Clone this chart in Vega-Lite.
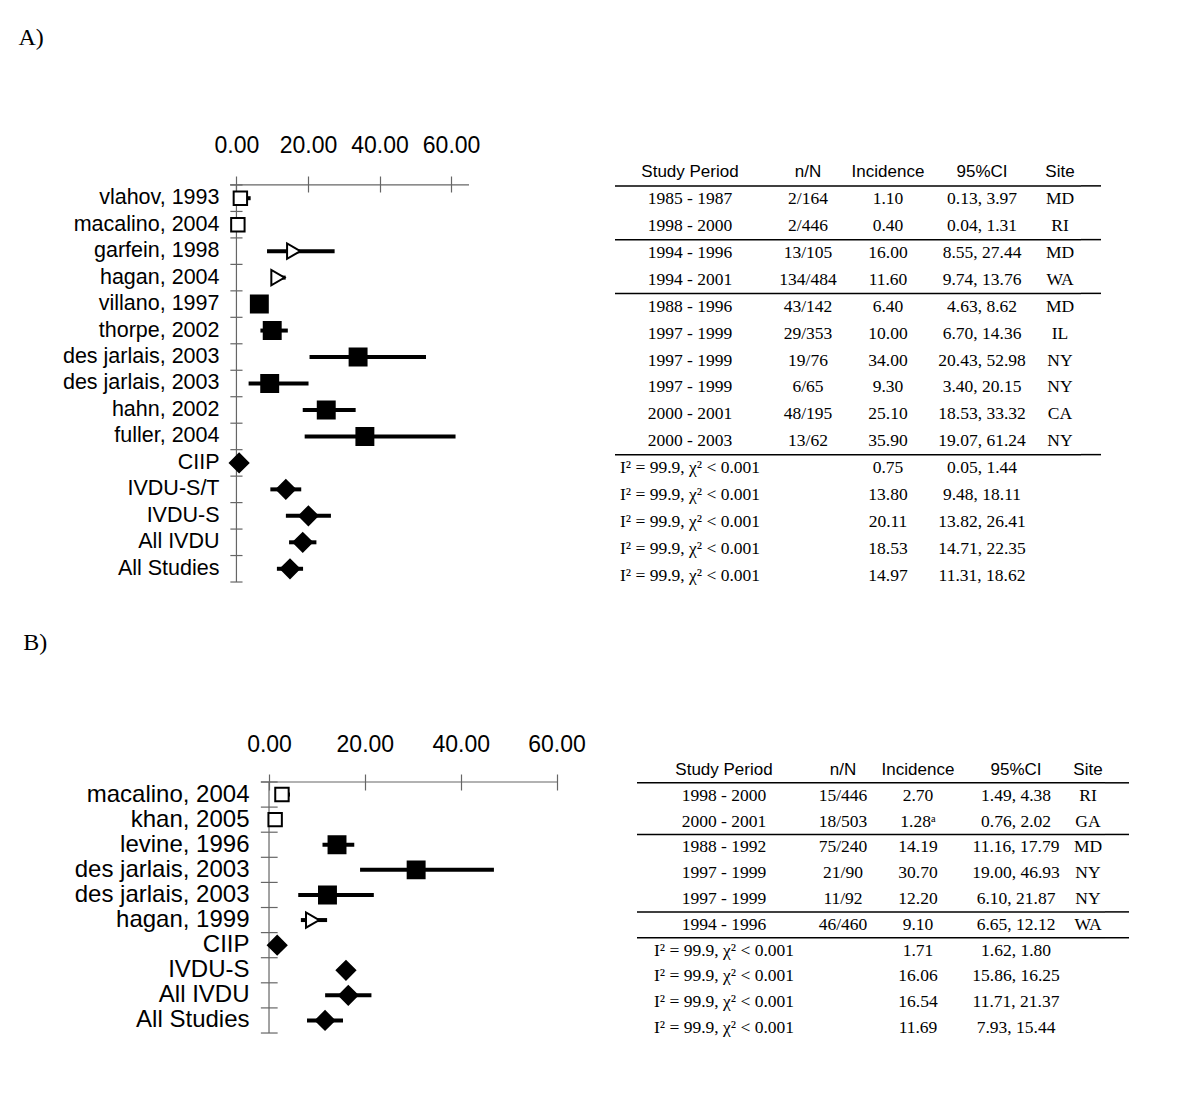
{
"$schema": "https://vega.github.io/schema/vega-lite/v6.json",
"background": "white",
"padding": {"left": 18, "top": 26, "right": 0, "bottom": 0},
"config": {"view": {"stroke": null}, "font": "Liberation Sans"},
"datasets": {
"forestA": [
{"label": "vlahov, 1993", "group": "CIIP", "est": 1.10, "lo": 0.13, "hi": 3.97},
{"label": "macalino, 2004", "group": "CIIP", "est": 0.40, "lo": 0.04, "hi": 1.31},
{"label": "garfein, 1998", "group": "IVDU-S/T", "est": 16.00, "lo": 8.55, "hi": 27.44},
{"label": "hagan, 2004", "group": "IVDU-S/T", "est": 11.60, "lo": 9.74, "hi": 13.76},
{"label": "villano, 1997", "group": "IVDU-S", "est": 6.40, "lo": 4.63, "hi": 8.62},
{"label": "thorpe, 2002", "group": "IVDU-S", "est": 10.00, "lo": 6.70, "hi": 14.36},
{"label": "des jarlais, 2003", "group": "IVDU-S", "est": 34.00, "lo": 20.43, "hi": 52.98},
{"label": "des jarlais, 2003\u200b", "group": "IVDU-S", "est": 9.30, "lo": 3.40, "hi": 20.15},
{"label": "hahn, 2002", "group": "IVDU-S", "est": 25.10, "lo": 18.53, "hi": 33.32},
{"label": "fuller, 2004", "group": "IVDU-S", "est": 35.90, "lo": 19.07, "hi": 61.24},
{"label": "CIIP", "group": "Pooled", "est": 0.75, "lo": 0.05, "hi": 1.44},
{"label": "IVDU-S/T", "group": "Pooled", "est": 13.80, "lo": 9.48, "hi": 18.11},
{"label": "IVDU-S", "group": "Pooled", "est": 20.11, "lo": 13.82, "hi": 26.41},
{"label": "All IVDU", "group": "Pooled", "est": 18.53, "lo": 14.71, "hi": 22.35},
{"label": "All Studies", "group": "Pooled", "est": 14.97, "lo": 11.31, "hi": 18.62}
],
"forestB": [
{"label": "macalino, 2004", "group": "CIIP", "est": 2.70, "lo": 1.49, "hi": 4.38},
{"label": "khan, 2005", "group": "CIIP", "est": 1.28, "lo": 0.76, "hi": 2.02},
{"label": "levine, 1996", "group": "IVDU-S", "est": 14.19, "lo": 11.16, "hi": 17.79},
{"label": "des jarlais, 2003", "group": "IVDU-S", "est": 30.70, "lo": 19.00, "hi": 46.93},
{"label": "des jarlais, 2003\u200b", "group": "IVDU-S", "est": 12.20, "lo": 6.10, "hi": 21.87},
{"label": "hagan, 1999", "group": "IVDU-S/T", "est": 9.10, "lo": 6.65, "hi": 12.12},
{"label": "CIIP", "group": "Pooled", "est": 1.71, "lo": 1.62, "hi": 1.80},
{"label": "IVDU-S", "group": "Pooled", "est": 16.06, "lo": 15.86, "hi": 16.25},
{"label": "All IVDU", "group": "Pooled", "est": 16.54, "lo": 11.71, "hi": 21.37},
{"label": "All Studies", "group": "Pooled", "est": 11.69, "lo": 7.93, "hi": 15.44}
],
"tableA": [
{"r": 0, "period": "Study Period", "nN": "n/N", "inc": "Incidence", "ci": "95%CI", "site": "Site"},
{"r": 1, "period": "1985 - 1987", "nN": "2/164", "inc": "1.10", "ci": "0.13, 3.97", "site": "MD"},
{"r": 2, "period": "1998 - 2000", "nN": "2/446", "inc": "0.40", "ci": "0.04, 1.31", "site": "RI"},
{"r": 3, "period": "1994 - 1996", "nN": "13/105", "inc": "16.00", "ci": "8.55, 27.44", "site": "MD"},
{"r": 4, "period": "1994 - 2001", "nN": "134/484", "inc": "11.60", "ci": "9.74, 13.76", "site": "WA"},
{"r": 5, "period": "1988 - 1996", "nN": "43/142", "inc": "6.40", "ci": "4.63, 8.62", "site": "MD"},
{"r": 6, "period": "1997 - 1999", "nN": "29/353", "inc": "10.00", "ci": "6.70, 14.36", "site": "IL"},
{"r": 7, "period": "1997 - 1999", "nN": "19/76", "inc": "34.00", "ci": "20.43, 52.98", "site": "NY"},
{"r": 8, "period": "1997 - 1999", "nN": "6/65", "inc": "9.30", "ci": "3.40, 20.15", "site": "NY"},
{"r": 9, "period": "2000 - 2001", "nN": "48/195", "inc": "25.10", "ci": "18.53, 33.32", "site": "CA"},
{"r": 10, "period": "2000 - 2003", "nN": "13/62", "inc": "35.90", "ci": "19.07, 61.24", "site": "NY"},
{"r": 11, "period": "I² = 99.9, χ² < 0.001", "nN": "", "inc": "0.75", "ci": "0.05, 1.44", "site": ""},
{"r": 12, "period": "I² = 99.9, χ² < 0.001", "nN": "", "inc": "13.80", "ci": "9.48, 18.11", "site": ""},
{"r": 13, "period": "I² = 99.9, χ² < 0.001", "nN": "", "inc": "20.11", "ci": "13.82, 26.41", "site": ""},
{"r": 14, "period": "I² = 99.9, χ² < 0.001", "nN": "", "inc": "18.53", "ci": "14.71, 22.35", "site": ""},
{"r": 15, "period": "I² = 99.9, χ² < 0.001", "nN": "", "inc": "14.97", "ci": "11.31, 18.62", "site": ""}
],
"tableB": [
{"r": 0, "period": "Study Period", "nN": "n/N", "inc": "Incidence", "ci": "95%CI", "site": "Site"},
{"r": 1, "period": "1998 - 2000", "nN": "15/446", "inc": "2.70", "ci": "1.49, 4.38", "site": "RI"},
{"r": 2, "period": "2000 - 2001", "nN": "18/503", "inc": "1.28ᵃ", "ci": "0.76, 2.02", "site": "GA"},
{"r": 3, "period": "1988 - 1992", "nN": "75/240", "inc": "14.19", "ci": "11.16, 17.79", "site": "MD"},
{"r": 4, "period": "1997 - 1999", "nN": "21/90", "inc": "30.70", "ci": "19.00, 46.93", "site": "NY"},
{"r": 5, "period": "1997 - 1999", "nN": "11/92", "inc": "12.20", "ci": "6.10, 21.87", "site": "NY"},
{"r": 6, "period": "1994 - 1996", "nN": "46/460", "inc": "9.10", "ci": "6.65, 12.12", "site": "WA"},
{"r": 7, "period": "I² = 99.9, χ² < 0.001", "nN": "", "inc": "1.71", "ci": "1.62, 1.80", "site": ""},
{"r": 8, "period": "I² = 99.9, χ² < 0.001", "nN": "", "inc": "16.06", "ci": "15.86, 16.25", "site": ""},
{"r": 9, "period": "I² = 99.9, χ² < 0.001", "nN": "", "inc": "16.54", "ci": "11.71, 21.37", "site": ""},
{"r": 10, "period": "I² = 99.9, χ² < 0.001", "nN": "", "inc": "11.69", "ci": "7.93, 15.44", "site": ""}
]
},
"spacing": 42,
"vconcat": [
{
"title": {"text": "A)", "anchor": "start", "font": "Liberation Serif", "fontSize": 24, "fontWeight": "normal", "color": "black", "baseline": "top", "dx": -44, "offset": 84},
"spacing": 134,
"hconcat": [
{
"width": 239, "height": 430,
"data": {"name": "forestA"},
"layer": [
{"transform": [{"filter": "datum.label == 'vlahov, 1993'"}], "mark": {"type": "rule", "stroke": "#666", "strokeWidth": 1.2},
 "encoding": {"y": {"field": "label", "type": "nominal", "bandPosition": 0, "title": null, "scale": {"type": "band", "domain": ["vlahov, 1993","macalino, 2004","garfein, 1998","hagan, 2004","villano, 1997","thorpe, 2002","des jarlais, 2003","des jarlais, 2003\u200b","hahn, 2002","fuller, 2004","CIIP","IVDU-S/T","IVDU-S","All IVDU","All Studies"], "paddingInner": 0, "paddingOuter": 0.6225, "align": 0.788}, "axis": {"ticks": false, "domain": false, "labelFont": "Liberation Sans", "labelFontSize": 21.5, "labelColor": "black", "labelPadding": 11, "labelLimit": 500}}}},
{"mark": {"type": "rule", "stroke": "#666", "strokeWidth": 1.2},
 "encoding": {"y": {"field": "label", "type": "nominal", "bandPosition": 0, "title": null, "scale": {"type": "band", "domain": ["vlahov, 1993","macalino, 2004","garfein, 1998","hagan, 2004","villano, 1997","thorpe, 2002","des jarlais, 2003","des jarlais, 2003\u200b","hahn, 2002","fuller, 2004","CIIP","IVDU-S/T","IVDU-S","All IVDU","All Studies"], "paddingInner": 0, "paddingOuter": 0.6225, "align": 0.788}},
  "x": {"datum": -1.7, "type": "quantitative", "title": null}, "x2": {"datum": 1.7}}},
{"transform": [{"filter": "datum.label == 'All Studies'"}], "mark": {"type": "rule", "stroke": "#666", "strokeWidth": 1.2},
 "encoding": {"y": {"field": "label", "type": "nominal", "bandPosition": 1, "title": null, "scale": {"type": "band", "domain": ["vlahov, 1993","macalino, 2004","garfein, 1998","hagan, 2004","villano, 1997","thorpe, 2002","des jarlais, 2003","des jarlais, 2003\u200b","hahn, 2002","fuller, 2004","CIIP","IVDU-S/T","IVDU-S","All IVDU","All Studies"], "paddingInner": 0, "paddingOuter": 0.6225, "align": 0.788}},
  "x": {"datum": -1.7, "type": "quantitative", "title": null}, "x2": {"datum": 1.7}}},
{"mark": {"type": "rect", "fill": null, "stroke": "#666", "strokeWidth": 1.2},
 "encoding": {"y": {"field": "label", "type": "nominal", "title": null, "scale": {"type": "band", "domain": ["vlahov, 1993","macalino, 2004","garfein, 1998","hagan, 2004","villano, 1997","thorpe, 2002","des jarlais, 2003","des jarlais, 2003\u200b","hahn, 2002","fuller, 2004","CIIP","IVDU-S/T","IVDU-S","All IVDU","All Studies"], "paddingInner": 0, "paddingOuter": 0.6225, "align": 0.788}},
  "x": {"datum": 0, "type": "quantitative", "title": null}, "x2": {"datum": 0}}},
{"mark": {"type": "rule", "color": "black", "strokeWidth": 4},
 "encoding": {"y": {"field": "label", "type": "nominal", "title": null, "scale": {"type": "band", "domain": ["vlahov, 1993","macalino, 2004","garfein, 1998","hagan, 2004","villano, 1997","thorpe, 2002","des jarlais, 2003","des jarlais, 2003\u200b","hahn, 2002","fuller, 2004","CIIP","IVDU-S/T","IVDU-S","All IVDU","All Studies"], "paddingInner": 0, "paddingOuter": 0.6225, "align": 0.788}},
  "x": {"field": "lo", "type": "quantitative", "title": null, "scale": {"domain": [-1.8, 65], "nice": false, "zero": false},
   "axis": {"orient": "top", "values": [0, 20, 40, 60], "format": ".2f", "domain": false, "grid": false, "tickSize": 16, "tickColor": "#666", "tickWidth": 1.2, "offset": -33, "labelPadding": 19, "labelFont": "Liberation Sans", "labelFontSize": 23, "labelColor": "black", "labelFlush": false, "labelOverlap": false}},
  "x2": {"field": "hi"}}},
{"mark": {"type": "point", "stroke": "black", "strokeWidth": 2, "opacity": 1},
 "encoding": {"y": {"field": "label", "type": "nominal", "title": null, "scale": {"type": "band", "domain": ["vlahov, 1993","macalino, 2004","garfein, 1998","hagan, 2004","villano, 1997","thorpe, 2002","des jarlais, 2003","des jarlais, 2003\u200b","hahn, 2002","fuller, 2004","CIIP","IVDU-S/T","IVDU-S","All IVDU","All Studies"], "paddingInner": 0, "paddingOuter": 0.6225, "align": 0.788}},
  "x": {"field": "est", "type": "quantitative", "title": null},
  "shape": {"field": "group", "type": "nominal", "legend": null, "scale": {"domain": ["CIIP","IVDU-S/T","IVDU-S","Pooled"], "range": ["square","triangle-right","square","diamond"]}},
  "fill": {"field": "group", "type": "nominal", "legend": null, "scale": {"domain": ["CIIP","IVDU-S/T","IVDU-S","Pooled"], "range": ["white","white","black","black"]}},
  "size": {"field": "group", "type": "ordinal", "legend": null, "scale": {"domain": ["CIIP","IVDU-S/T","IVDU-S","Pooled"], "range": [180, 340, 190, 430]}}}}
]
},
{
"hconcat": [
{"width": 150, "height": 430, "data": {"name": "tableA"}, "layer": [
 {"transform": [{"filter": {"field": "r", "oneOf": [1,3,5,11]}}], "mark": {"type": "rule", "stroke": "black", "strokeWidth": 1.5}, "encoding": {"y": {"field": "r", "type": "ordinal", "bandPosition": 0, "axis": null, "scale": {"type": "band", "domain": [0,1,2,3,4,5,6,7,8,9,10,11,12,13,14,15], "paddingInner": 0, "paddingOuter": 0}}}},
 {"transform": [{"filter": "datum.r == 0"}], "mark": {"type": "text", "font": "Liberation Sans", "fontSize": 17, "color": "black"}, "encoding": {"y": {"field": "r", "type": "ordinal", "axis": null, "scale": {"type": "band", "domain": [0,1,2,3,4,5,6,7,8,9,10,11,12,13,14,15], "paddingInner": 0, "paddingOuter": 0}}, "text": {"field": "period"}}},
 {"transform": [{"filter": "datum.r > 0"}], "mark": {"type": "text", "font": "Liberation Serif", "fontSize": 17.5, "color": "black"}, "encoding": {"y": {"field": "r", "type": "ordinal", "axis": null, "scale": {"type": "band", "domain": [0,1,2,3,4,5,6,7,8,9,10,11,12,13,14,15], "paddingInner": 0, "paddingOuter": 0}}, "text": {"field": "period"}}}
]},
{"width": 86, "height": 430, "data": {"name": "tableA"}, "layer": [
 {"transform": [{"filter": {"field": "r", "oneOf": [1,3,5,11]}}], "mark": {"type": "rule", "stroke": "black", "strokeWidth": 1.5}, "encoding": {"y": {"field": "r", "type": "ordinal", "bandPosition": 0, "axis": null, "scale": {"type": "band", "domain": [0,1,2,3,4,5,6,7,8,9,10,11,12,13,14,15], "paddingInner": 0, "paddingOuter": 0}}}},
 {"transform": [{"filter": "datum.r == 0"}], "mark": {"type": "text", "font": "Liberation Sans", "fontSize": 17, "color": "black"}, "encoding": {"y": {"field": "r", "type": "ordinal", "axis": null, "scale": {"type": "band", "domain": [0,1,2,3,4,5,6,7,8,9,10,11,12,13,14,15], "paddingInner": 0, "paddingOuter": 0}}, "text": {"field": "nN"}}},
 {"transform": [{"filter": "datum.r > 0"}], "mark": {"type": "text", "font": "Liberation Serif", "fontSize": 17.5, "color": "black"}, "encoding": {"y": {"field": "r", "type": "ordinal", "axis": null, "scale": {"type": "band", "domain": [0,1,2,3,4,5,6,7,8,9,10,11,12,13,14,15], "paddingInner": 0, "paddingOuter": 0}}, "text": {"field": "nN"}}}
]},
{"width": 74, "height": 430, "data": {"name": "tableA"}, "layer": [
 {"transform": [{"filter": {"field": "r", "oneOf": [1,3,5,11]}}], "mark": {"type": "rule", "stroke": "black", "strokeWidth": 1.5}, "encoding": {"y": {"field": "r", "type": "ordinal", "bandPosition": 0, "axis": null, "scale": {"type": "band", "domain": [0,1,2,3,4,5,6,7,8,9,10,11,12,13,14,15], "paddingInner": 0, "paddingOuter": 0}}}},
 {"transform": [{"filter": "datum.r == 0"}], "mark": {"type": "text", "font": "Liberation Sans", "fontSize": 17, "color": "black"}, "encoding": {"y": {"field": "r", "type": "ordinal", "axis": null, "scale": {"type": "band", "domain": [0,1,2,3,4,5,6,7,8,9,10,11,12,13,14,15], "paddingInner": 0, "paddingOuter": 0}}, "text": {"field": "inc"}}},
 {"transform": [{"filter": "datum.r > 0"}], "mark": {"type": "text", "font": "Liberation Serif", "fontSize": 17.5, "color": "black"}, "encoding": {"y": {"field": "r", "type": "ordinal", "axis": null, "scale": {"type": "band", "domain": [0,1,2,3,4,5,6,7,8,9,10,11,12,13,14,15], "paddingInner": 0, "paddingOuter": 0}}, "text": {"field": "inc"}}}
]},
{"width": 114, "height": 430, "data": {"name": "tableA"}, "layer": [
 {"transform": [{"filter": {"field": "r", "oneOf": [1,3,5,11]}}], "mark": {"type": "rule", "stroke": "black", "strokeWidth": 1.5}, "encoding": {"y": {"field": "r", "type": "ordinal", "bandPosition": 0, "axis": null, "scale": {"type": "band", "domain": [0,1,2,3,4,5,6,7,8,9,10,11,12,13,14,15], "paddingInner": 0, "paddingOuter": 0}}}},
 {"transform": [{"filter": "datum.r == 0"}], "mark": {"type": "text", "font": "Liberation Sans", "fontSize": 17, "color": "black"}, "encoding": {"y": {"field": "r", "type": "ordinal", "axis": null, "scale": {"type": "band", "domain": [0,1,2,3,4,5,6,7,8,9,10,11,12,13,14,15], "paddingInner": 0, "paddingOuter": 0}}, "text": {"field": "ci"}}},
 {"transform": [{"filter": "datum.r > 0"}], "mark": {"type": "text", "font": "Liberation Serif", "fontSize": 17.5, "color": "black"}, "encoding": {"y": {"field": "r", "type": "ordinal", "axis": null, "scale": {"type": "band", "domain": [0,1,2,3,4,5,6,7,8,9,10,11,12,13,14,15], "paddingInner": 0, "paddingOuter": 0}}, "text": {"field": "ci"}}}
]},
{"width": 42, "height": 430, "data": {"name": "tableA"}, "layer": [
 {"transform": [{"filter": {"field": "r", "oneOf": [1,3,5,11]}}], "mark": {"type": "rule", "stroke": "black", "strokeWidth": 1.5}, "encoding": {"y": {"field": "r", "type": "ordinal", "bandPosition": 0, "axis": null, "scale": {"type": "band", "domain": [0,1,2,3,4,5,6,7,8,9,10,11,12,13,14,15], "paddingInner": 0, "paddingOuter": 0}}}},
 {"transform": [{"filter": "datum.r == 0"}], "mark": {"type": "text", "font": "Liberation Sans", "fontSize": 17, "color": "black"}, "encoding": {"y": {"field": "r", "type": "ordinal", "axis": null, "scale": {"type": "band", "domain": [0,1,2,3,4,5,6,7,8,9,10,11,12,13,14,15], "paddingInner": 0, "paddingOuter": 0}}, "text": {"field": "site"}}},
 {"transform": [{"filter": "datum.r > 0"}], "mark": {"type": "text", "font": "Liberation Serif", "fontSize": 17.5, "color": "black"}, "encoding": {"y": {"field": "r", "type": "ordinal", "axis": null, "scale": {"type": "band", "domain": [0,1,2,3,4,5,6,7,8,9,10,11,12,13,14,15], "paddingInner": 0, "paddingOuter": 0}}, "text": {"field": "site"}}}
]},
{"width": 20, "height": 430, "data": {"name": "tableA"}, "transform": [{"filter": {"field": "r", "oneOf": [1,3,5,11]}}], "mark": {"type": "rule", "stroke": "black", "strokeWidth": 1.5}, "encoding": {"y": {"field": "r", "type": "ordinal", "bandPosition": 0, "axis": null, "scale": {"type": "band", "domain": [0,1,2,3,4,5,6,7,8,9,10,11,12,13,14,15], "paddingInner": 0, "paddingOuter": 0}}}}
],
"spacing": 0,
"bounds": "flush"
}
]
},
{
"title": {"text": "B)", "anchor": "start", "font": "Liberation Serif", "fontSize": 24, "fontWeight": "normal", "color": "black", "baseline": "top", "dx": -51, "offset": 78},
"spacing": 50,
"hconcat": [
{
"width": 328, "height": 284,
"data": {"name": "forestB"},
"layer": [
{"transform": [{"filter": "datum.label == 'macalino, 2004'"}], "mark": {"type": "rule", "stroke": "#666", "strokeWidth": 1.2},
 "encoding": {"y": {"field": "label", "type": "nominal", "bandPosition": 0, "title": null, "scale": {"type": "band", "domain": ["macalino, 2004","khan, 2005","levine, 1996","des jarlais, 2003","des jarlais, 2003\u200b","hagan, 1999","CIIP","IVDU-S","All IVDU","All Studies"], "paddingInner": 0, "paddingOuter": 0.657, "align": 0.758}, "axis": {"ticks": false, "domain": false, "offset": -31, "labelFont": "Liberation Sans", "labelFontSize": 24, "labelColor": "black", "labelPadding": 12, "labelLimit": 500}},
  "x": {"datum": -1.7, "type": "quantitative", "title": null}, "x2": {"datum": 60.3}}},
{"mark": {"type": "rule", "stroke": "#666", "strokeWidth": 1.2},
 "encoding": {"y": {"field": "label", "type": "nominal", "bandPosition": 0, "title": null, "scale": {"type": "band", "domain": ["macalino, 2004","khan, 2005","levine, 1996","des jarlais, 2003","des jarlais, 2003\u200b","hagan, 1999","CIIP","IVDU-S","All IVDU","All Studies"], "paddingInner": 0, "paddingOuter": 0.657, "align": 0.758}},
  "x": {"datum": -1.7, "type": "quantitative", "title": null}, "x2": {"datum": 1.8}}},
{"transform": [{"filter": "datum.label == 'All Studies'"}], "mark": {"type": "rule", "stroke": "#666", "strokeWidth": 1.2},
 "encoding": {"y": {"field": "label", "type": "nominal", "bandPosition": 1, "title": null, "scale": {"type": "band", "domain": ["macalino, 2004","khan, 2005","levine, 1996","des jarlais, 2003","des jarlais, 2003\u200b","hagan, 1999","CIIP","IVDU-S","All IVDU","All Studies"], "paddingInner": 0, "paddingOuter": 0.657, "align": 0.758}},
  "x": {"datum": -1.7, "type": "quantitative", "title": null}, "x2": {"datum": 1.8}}},
{"mark": {"type": "rect", "fill": null, "stroke": "#666", "strokeWidth": 1.2},
 "encoding": {"y": {"field": "label", "type": "nominal", "title": null, "scale": {"type": "band", "domain": ["macalino, 2004","khan, 2005","levine, 1996","des jarlais, 2003","des jarlais, 2003\u200b","hagan, 1999","CIIP","IVDU-S","All IVDU","All Studies"], "paddingInner": 0, "paddingOuter": 0.657, "align": 0.758}},
  "x": {"datum": 0, "type": "quantitative", "title": null}, "x2": {"datum": 0}}},
{"mark": {"type": "rule", "color": "black", "strokeWidth": 4},
 "encoding": {"y": {"field": "label", "type": "nominal", "title": null, "scale": {"type": "band", "domain": ["macalino, 2004","khan, 2005","levine, 1996","des jarlais, 2003","des jarlais, 2003\u200b","hagan, 1999","CIIP","IVDU-S","All IVDU","All Studies"], "paddingInner": 0, "paddingOuter": 0.657, "align": 0.758}},
  "x": {"field": "lo", "type": "quantitative", "title": null, "scale": {"domain": [-8.14, 60.3], "nice": false, "zero": false},
   "axis": {"orient": "top", "values": [0, 20, 40, 60], "format": ".2f", "domain": false, "grid": false, "tickSize": 16, "tickColor": "#666", "tickWidth": 1.2, "offset": -33, "labelPadding": 18, "labelFont": "Liberation Sans", "labelFontSize": 23, "labelColor": "black", "labelFlush": false, "labelOverlap": false}},
  "x2": {"field": "hi"}}},
{"mark": {"type": "point", "stroke": "black", "strokeWidth": 2, "opacity": 1},
 "encoding": {"y": {"field": "label", "type": "nominal", "title": null, "scale": {"type": "band", "domain": ["macalino, 2004","khan, 2005","levine, 1996","des jarlais, 2003","des jarlais, 2003\u200b","hagan, 1999","CIIP","IVDU-S","All IVDU","All Studies"], "paddingInner": 0, "paddingOuter": 0.657, "align": 0.758}},
  "x": {"field": "est", "type": "quantitative", "title": null},
  "shape": {"field": "group", "type": "nominal", "legend": null, "scale": {"domain": ["CIIP","IVDU-S/T","IVDU-S","Pooled"], "range": ["square","triangle-right","square","diamond"]}},
  "fill": {"field": "group", "type": "nominal", "legend": null, "scale": {"domain": ["CIIP","IVDU-S/T","IVDU-S","Pooled"], "range": ["white","white","black","black"]}},
  "size": {"field": "group", "type": "ordinal", "legend": null, "scale": {"domain": ["CIIP","IVDU-S/T","IVDU-S","Pooled"], "range": [170, 340, 190, 450]}}}}
]
},
{
"hconcat": [
{"width": 174, "height": 284, "data": {"name": "tableB"}, "layer": [
 {"transform": [{"filter": {"field": "r", "oneOf": [1,3,6,7]}}], "mark": {"type": "rule", "stroke": "black", "strokeWidth": 1.5}, "encoding": {"y": {"field": "r", "type": "ordinal", "bandPosition": 0, "axis": null, "scale": {"type": "band", "domain": [0,1,2,3,4,5,6,7,8,9,10], "paddingInner": 0, "paddingOuter": 0}}}},
 {"transform": [{"filter": "datum.r == 0"}], "mark": {"type": "text", "font": "Liberation Sans", "fontSize": 17, "color": "black"}, "encoding": {"y": {"field": "r", "type": "ordinal", "axis": null, "scale": {"type": "band", "domain": [0,1,2,3,4,5,6,7,8,9,10], "paddingInner": 0, "paddingOuter": 0}}, "text": {"field": "period"}}},
 {"transform": [{"filter": "datum.r > 0"}], "mark": {"type": "text", "font": "Liberation Serif", "fontSize": 17.5, "color": "black"}, "encoding": {"y": {"field": "r", "type": "ordinal", "axis": null, "scale": {"type": "band", "domain": [0,1,2,3,4,5,6,7,8,9,10], "paddingInner": 0, "paddingOuter": 0}}, "text": {"field": "period"}}}
]},
{"width": 64, "height": 284, "data": {"name": "tableB"}, "layer": [
 {"transform": [{"filter": {"field": "r", "oneOf": [1,3,6,7]}}], "mark": {"type": "rule", "stroke": "black", "strokeWidth": 1.5}, "encoding": {"y": {"field": "r", "type": "ordinal", "bandPosition": 0, "axis": null, "scale": {"type": "band", "domain": [0,1,2,3,4,5,6,7,8,9,10], "paddingInner": 0, "paddingOuter": 0}}}},
 {"transform": [{"filter": "datum.r == 0"}], "mark": {"type": "text", "font": "Liberation Sans", "fontSize": 17, "color": "black"}, "encoding": {"y": {"field": "r", "type": "ordinal", "axis": null, "scale": {"type": "band", "domain": [0,1,2,3,4,5,6,7,8,9,10], "paddingInner": 0, "paddingOuter": 0}}, "text": {"field": "nN"}}},
 {"transform": [{"filter": "datum.r > 0"}], "mark": {"type": "text", "font": "Liberation Serif", "fontSize": 17.5, "color": "black"}, "encoding": {"y": {"field": "r", "type": "ordinal", "axis": null, "scale": {"type": "band", "domain": [0,1,2,3,4,5,6,7,8,9,10], "paddingInner": 0, "paddingOuter": 0}}, "text": {"field": "nN"}}}
]},
{"width": 86, "height": 284, "data": {"name": "tableB"}, "layer": [
 {"transform": [{"filter": {"field": "r", "oneOf": [1,3,6,7]}}], "mark": {"type": "rule", "stroke": "black", "strokeWidth": 1.5}, "encoding": {"y": {"field": "r", "type": "ordinal", "bandPosition": 0, "axis": null, "scale": {"type": "band", "domain": [0,1,2,3,4,5,6,7,8,9,10], "paddingInner": 0, "paddingOuter": 0}}}},
 {"transform": [{"filter": "datum.r == 0"}], "mark": {"type": "text", "font": "Liberation Sans", "fontSize": 17, "color": "black"}, "encoding": {"y": {"field": "r", "type": "ordinal", "axis": null, "scale": {"type": "band", "domain": [0,1,2,3,4,5,6,7,8,9,10], "paddingInner": 0, "paddingOuter": 0}}, "text": {"field": "inc"}}},
 {"transform": [{"filter": "datum.r > 0"}], "mark": {"type": "text", "font": "Liberation Serif", "fontSize": 17.5, "color": "black"}, "encoding": {"y": {"field": "r", "type": "ordinal", "axis": null, "scale": {"type": "band", "domain": [0,1,2,3,4,5,6,7,8,9,10], "paddingInner": 0, "paddingOuter": 0}}, "text": {"field": "inc"}}}
]},
{"width": 110, "height": 284, "data": {"name": "tableB"}, "layer": [
 {"transform": [{"filter": {"field": "r", "oneOf": [1,3,6,7]}}], "mark": {"type": "rule", "stroke": "black", "strokeWidth": 1.5}, "encoding": {"y": {"field": "r", "type": "ordinal", "bandPosition": 0, "axis": null, "scale": {"type": "band", "domain": [0,1,2,3,4,5,6,7,8,9,10], "paddingInner": 0, "paddingOuter": 0}}}},
 {"transform": [{"filter": "datum.r == 0"}], "mark": {"type": "text", "font": "Liberation Sans", "fontSize": 17, "color": "black"}, "encoding": {"y": {"field": "r", "type": "ordinal", "axis": null, "scale": {"type": "band", "domain": [0,1,2,3,4,5,6,7,8,9,10], "paddingInner": 0, "paddingOuter": 0}}, "text": {"field": "ci"}}},
 {"transform": [{"filter": "datum.r > 0"}], "mark": {"type": "text", "font": "Liberation Serif", "fontSize": 17.5, "color": "black"}, "encoding": {"y": {"field": "r", "type": "ordinal", "axis": null, "scale": {"type": "band", "domain": [0,1,2,3,4,5,6,7,8,9,10], "paddingInner": 0, "paddingOuter": 0}}, "text": {"field": "ci"}}}
]},
{"width": 34, "height": 284, "data": {"name": "tableB"}, "layer": [
 {"transform": [{"filter": {"field": "r", "oneOf": [1,3,6,7]}}], "mark": {"type": "rule", "stroke": "black", "strokeWidth": 1.5}, "encoding": {"y": {"field": "r", "type": "ordinal", "bandPosition": 0, "axis": null, "scale": {"type": "band", "domain": [0,1,2,3,4,5,6,7,8,9,10], "paddingInner": 0, "paddingOuter": 0}}}},
 {"transform": [{"filter": "datum.r == 0"}], "mark": {"type": "text", "font": "Liberation Sans", "fontSize": 17, "color": "black"}, "encoding": {"y": {"field": "r", "type": "ordinal", "axis": null, "scale": {"type": "band", "domain": [0,1,2,3,4,5,6,7,8,9,10], "paddingInner": 0, "paddingOuter": 0}}, "text": {"field": "site"}}},
 {"transform": [{"filter": "datum.r > 0"}], "mark": {"type": "text", "font": "Liberation Serif", "fontSize": 17.5, "color": "black"}, "encoding": {"y": {"field": "r", "type": "ordinal", "axis": null, "scale": {"type": "band", "domain": [0,1,2,3,4,5,6,7,8,9,10], "paddingInner": 0, "paddingOuter": 0}}, "text": {"field": "site"}}}
]},
{"width": 24, "height": 284, "data": {"name": "tableB"}, "transform": [{"filter": {"field": "r", "oneOf": [1,3,6,7]}}], "mark": {"type": "rule", "stroke": "black", "strokeWidth": 1.5}, "encoding": {"y": {"field": "r", "type": "ordinal", "bandPosition": 0, "axis": null, "scale": {"type": "band", "domain": [0,1,2,3,4,5,6,7,8,9,10], "paddingInner": 0, "paddingOuter": 0}}}}
],
"spacing": 0,
"bounds": "flush"
}
]
}
]
}
